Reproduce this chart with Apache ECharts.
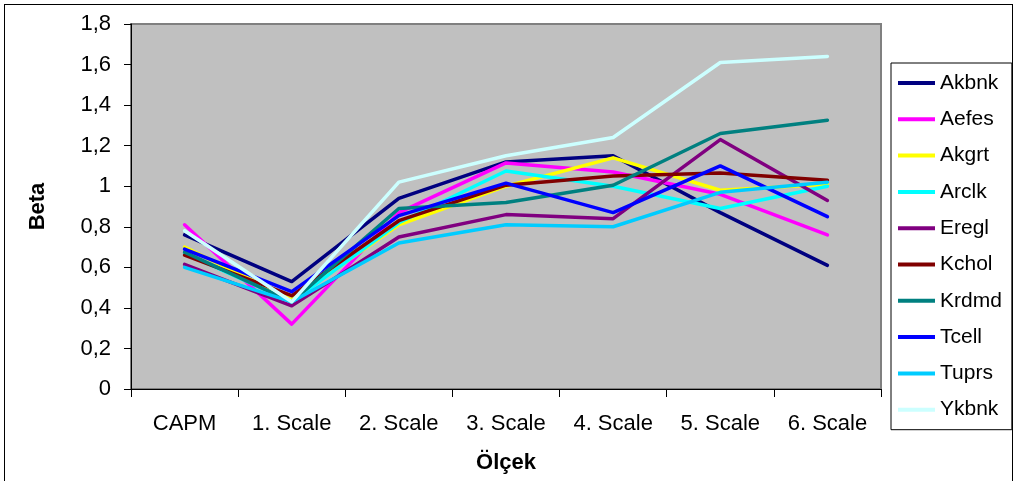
<!DOCTYPE html>
<html>
<head>
<meta charset="utf-8">
<script src="https://cdn.jsdelivr.net/npm/echarts@6/dist/echarts.min.js"></script>
<style>
html,body{margin:0;padding:0;background:#fff;}
#frame{position:absolute;left:4px;top:4px;width:1009px;height:480px;border:1px solid #000;box-sizing:border-box;}
#c{position:absolute;left:0;top:0;width:1015px;height:481px;}
</style>
</head>
<body>
<div id="frame"></div>
<div id="c"></div>
<script>
const categories = ["CAPM", "1. Scale", "2. Scale", "3. Scale", "4. Scale", "5. Scale", "6. Scale"];
const yTicks = [0, 0.2, 0.4, 0.6, 0.8, 1.0, 1.2, 1.4, 1.6, 1.8];
const seriesNames = ["Akbnk", "Aefes", "Akgrt", "Arclk", "Eregl", "Kchol", "Krdmd", "Tcell", "Tuprs", "Ykbnk"];
const seriesColors = ["#000080", "#FF00FF", "#FFFF00", "#00FFFF", "#800080", "#800000", "#008080", "#0000FF", "#00CCFF", "#CCFFFF"];
const Akbnk = [0.76, 0.53, 0.94, 1.12, 1.15, 0.87, 0.61];
const Aefes = [0.81, 0.32, 0.87, 1.115, 1.07, 0.96, 0.76];
const Akgrt = [0.70, 0.44, 0.81, 1.00, 1.14, 0.98, 1.01];
const Arclk = [0.67, 0.43, 0.82, 1.075, 1.00, 0.89, 1.00];
const Eregl = [0.615, 0.41, 0.75, 0.86, 0.84, 1.23, 0.93];
const Kchol = [0.66, 0.46, 0.83, 1.005, 1.05, 1.065, 1.03];
const Krdmd = [0.675, 0.43, 0.89, 0.92, 1.005, 1.26, 1.325];
const Tcell = [0.69, 0.48, 0.855, 1.015, 0.87, 1.10, 0.85];
const Tuprs = [0.60, 0.43, 0.72, 0.81, 0.80, 0.97, 1.02];
const Ykbnk = [0.78, 0.43, 1.02, 1.15, 1.24, 1.61, 1.64];
const seriesData = [Akbnk, Aefes, Akgrt, Arclk, Eregl, Kchol, Krdmd, Tcell, Tuprs, Ykbnk];

const chart = echarts.init(document.getElementById('c'), null, {renderer: 'canvas'});
const font = 'Arial, "Liberation Sans", sans-serif';
chart.setOption({
  animation: false,
  grid: {left: 131, right: 134, top: 24, bottom: 92, show: true, backgroundColor: '#c0c0c0', borderColor: '#808080', borderWidth: 2, containLabel: false},
  legend: {
    orient: 'vertical', left: 891, top: 63,
    data: seriesNames.map((n, i) => ({name: n, icon: 'rect', itemStyle: {color: seriesColors[i]}})),
    itemWidth: 37, itemHeight: 4, itemGap: 14.3, itemTextGap: 5,
    padding: [9, 10, 9, 7],
    borderColor: '#000', borderWidth: 1, backgroundColor: '#fff',
    textStyle: {fontFamily: font, fontSize: 21, color: '#000', lineHeight: 22},
    selectedMode: false
  },
  xAxis: {
    type: 'category', data: categories, boundaryGap: true,
    name: 'Ölçek', nameLocation: 'middle', nameGap: 63,
    nameTextStyle: {fontFamily: font, fontSize: 22, fontWeight: 'bold', color: '#000'},
    axisLine: {show: true, lineStyle: {color: '#000', width: 1}},
    axisTick: {show: true, length: 8, lineStyle: {color: '#000'}},
    axisLabel: {fontFamily: font, fontSize: 22, color: '#000', margin: 24},
    splitLine: {show: false}
  },
  yAxis: {
    type: 'value', min: 0, max: 1.8, interval: 0.2,
    name: 'Beta', nameLocation: 'middle', nameGap: 82, nameRotate: 90,
    nameTextStyle: {fontFamily: font, fontSize: 22, fontWeight: 'bold', color: '#000'},
    axisLine: {show: true, lineStyle: {color: '#000', width: 1}},
    axisTick: {show: true, length: 7, lineStyle: {color: '#000'}},
    axisLabel: {fontFamily: font, fontSize: 22, color: '#000', margin: 20,
      formatter: v => { const t = yTicks.find(x => Math.abs(x - v) < 1e-6); return (t === undefined ? v : (Math.round(t*10)/10)).toString().replace('.', ','); }},
    splitLine: {show: false}
  },
  series: seriesNames.map((n, i) => ({
    name: n, type: 'line', data: seriesData[i], symbol: 'none',
    lineStyle: {color: seriesColors[i], width: 3.5, cap: 'round', join: 'round'},
    itemStyle: {color: seriesColors[i]}
  }))
});
</script>
</body>
</html>
